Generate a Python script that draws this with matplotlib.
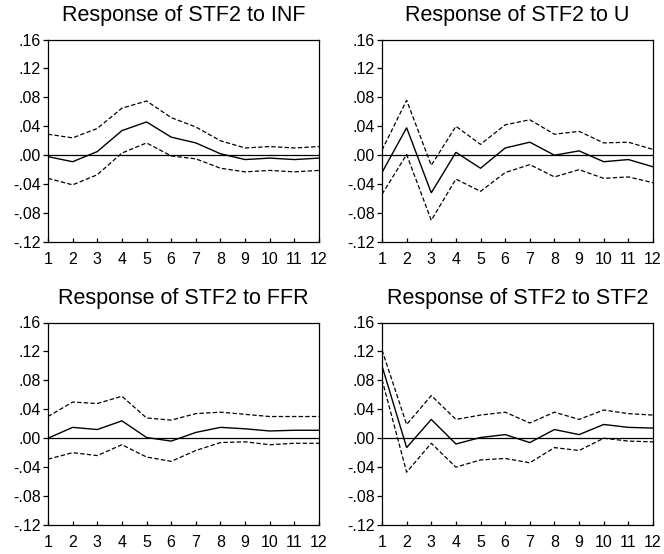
import matplotlib
matplotlib.use("Agg")
import matplotlib.pyplot as plt

plt.rcParams['font.family'] = ['Liberation Sans', 'DejaVu Sans']

periods = list(range(1, 13))

titles = ["Response of STF2 to INF", "Response of STF2 to U",
          "Response of STF2 to FFR", "Response of STF2 to STF2"]

inf_resp = [-0.002, -0.009, 0.005, 0.034, 0.046, 0.025, 0.017, 0.002, -0.006, -0.004, -0.006, -0.004]
inf_upper = [0.029, 0.024, 0.037, 0.065, 0.075, 0.052, 0.039, 0.020, 0.010, 0.012, 0.010, 0.012]
inf_lower = [-0.032, -0.041, -0.027, 0.003, 0.017, -0.001, -0.005, -0.018, -0.023, -0.021, -0.023, -0.021]

u_resp = [-0.024, 0.038, -0.052, 0.004, -0.018, 0.010, 0.018, 0.000, 0.006, -0.009, -0.006, -0.016]
u_upper = [0.007, 0.076, -0.014, 0.040, 0.015, 0.042, 0.049, 0.029, 0.033, 0.017, 0.018, 0.008]
u_lower = [-0.054, 0.001, -0.090, -0.033, -0.050, -0.024, -0.013, -0.030, -0.020, -0.032, -0.030, -0.038]

ffr_resp = [0.000, 0.015, 0.012, 0.024, 0.001, -0.004, 0.008, 0.015, 0.013, 0.010, 0.011, 0.011]
ffr_upper = [0.030, 0.050, 0.048, 0.058, 0.028, 0.025, 0.034, 0.036, 0.033, 0.030, 0.030, 0.030]
ffr_lower = [-0.029, -0.020, -0.024, -0.009, -0.026, -0.032, -0.017, -0.006, -0.005, -0.009, -0.007, -0.007]

stf2_resp = [0.100, -0.013, 0.026, -0.008, 0.001, 0.005, -0.006, 0.012, 0.005, 0.019, 0.015, 0.014]
stf2_upper = [0.122, 0.019, 0.059, 0.026, 0.032, 0.036, 0.021, 0.036, 0.026, 0.039, 0.034, 0.032]
stf2_lower = [0.081, -0.047, -0.007, -0.040, -0.030, -0.028, -0.034, -0.013, -0.017, 0.000, -0.004, -0.005]

y_ticks = [-0.12, -0.08, -0.04, 0.00, 0.04, 0.08, 0.12, 0.16]
y_tick_labels = ["-.12", "-.08", "-.04", ".00", ".04", ".08", ".12", ".16"]

panels = [
    (inf_resp, inf_upper, inf_lower),
    (u_resp, u_upper, u_lower),
    (ffr_resp, ffr_upper, ffr_lower),
    (stf2_resp, stf2_upper, stf2_lower),
]

fig = plt.figure(figsize=(6.64, 5.54), dpi=100)

W, H = 664.0, 554.0
lefts = [48, 382]
tops = [39.5, 322.5]
ax_w, ax_h = 271.0, 202.5

for i, (resp, upper, lower) in enumerate(panels):
    row, col = divmod(i, 2)
    l = lefts[col] / W
    b = 1 - (tops[row] + ax_h) / H
    ax = fig.add_axes([l, b, ax_w / W, ax_h / H])
    ax.axhline(0, color="black", lw=0.9)
    ax.plot(periods, resp, color="black", lw=1.0, solid_joinstyle="miter")
    ax.plot(periods, upper, color="black", lw=0.9, linestyle=(0, (3.5, 1.8)))
    ax.plot(periods, lower, color="black", lw=0.9, linestyle=(0, (3.5, 1.8)))
    ax.set_xlim(1, 12)
    ax.set_ylim(-0.12, 0.16)
    ax.set_yticks(y_ticks)
    ax.set_yticklabels(y_tick_labels)
    ax.set_xticks(periods)
    ax.set_xticklabels([str(p) for p in periods])
    ax.tick_params(axis="y", direction="out", length=3.5, width=0.9,
                   labelsize=11.5, pad=1.5)
    ax.tick_params(axis="x", direction="in", length=3, width=0.9,
                   labelsize=11.5, pad=7)
    for s in ax.spines.values():
        s.set_linewidth(0.9)
    ax.set_title(titles[i], fontsize=15.5, pad=13)

fig.savefig("out.png", dpi=100)
